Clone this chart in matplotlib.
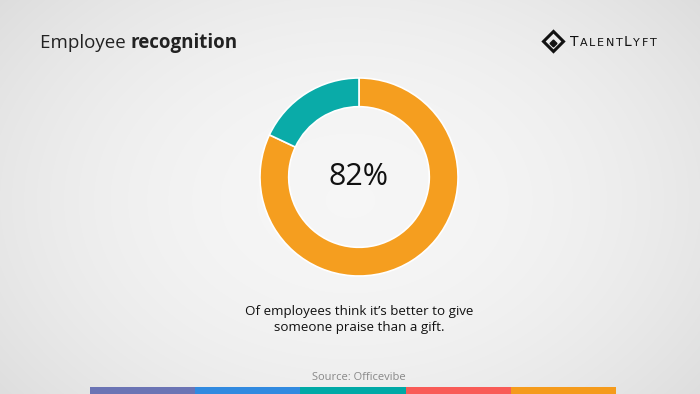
import numpy as np
import matplotlib
matplotlib.use("Agg")
import matplotlib.pyplot as plt

categories = ["Praise", "Gift"]
values = [82, 18]
colors = ["#F59E1F", "#0AABA8"]
center_label = "82%"
title_regular = "Employee "
title_bold = "recognition"
caption = "Of employees think it\u2019s better to give\nsomeone praise than a gift."
source = "Source: Officevibe"
stripe_colors = ["#6B74B4", "#318AE0", "#00A9A6", "#F95B57", "#F59B1C"]
logo_parts = [("T", 10), ("ALENT", 8), ("L", 10), ("YFT", 8)]

W, H = 700, 394
fig = plt.figure(figsize=(W / 100, H / 100), dpi=100)

# background radial gradient
bg = fig.add_axes([0, 0, 1, 1])
yy, xx = np.mgrid[0:H, 0:W]
r = np.sqrt(((xx - 350) / 420) ** 2 + ((yy - 200) / 300) ** 2)
g = 0.965 - 0.085 * np.clip(r, 0, 1.2) ** 2
img = np.dstack([g, g, g])
bg.imshow(img, extent=[0, W, H, 0], aspect="auto")
bg.set_xlim(0, W)
bg.set_ylim(H, 0)
bg.axis("off")

# stripes at bottom
sx0, sx1 = 90, 616
seg = (sx1 - sx0) / len(stripe_colors)
for i, c in enumerate(stripe_colors):
    bg.add_patch(plt.Rectangle((sx0 + i * seg, 387), seg, 8, color=c, lw=0))

# donut
cx, cy, R = 359, 177, 101
ax = fig.add_axes([(cx - R) / W, 1 - (cy + R) / H, 2 * R / W, 2 * R / H])
ax.pie(values, colors=colors, startangle=90, counterclock=False, radius=1,
       wedgeprops=dict(width=0.29, edgecolor="white", linewidth=1.2))
ax.set_xlim(-1.02, 1.02)
ax.set_ylim(-1.02, 1.02)
ax.set_aspect("equal")
ax.axis("off")
ax.text(0, 0, center_label, ha="center", va="center", fontsize=22,
        family="Open Sans", color="#111111")

# title
t = fig.text(40 / W, 1 - 43 / H, title_regular, fontsize=13.5, family="Open Sans",
             color="#222222", va="center", ha="left")
fig.canvas.draw()
bb = t.get_window_extent()
fig.text(bb.x1 / W, 1 - 43 / H, title_bold, fontsize=13.5, family="Open Sans",
         weight="bold", color="#222222", va="center", ha="left")

# caption
fig.text(359 / W, 1 - 319 / H, caption, fontsize=9.6, family="Open Sans",
         color="#111111", ha="center", va="center", linespacing=1.3)

# source
fig.text(359 / W, 1 - 377 / H, source, fontsize=8, family="Open Sans",
         color="#888888", ha="center", va="center")

# logo
bg.plot([553], [41], marker="D", markersize=10, markerfacecolor="none",
        markeredgecolor="#111111", markeredgewidth=2.2)
bg.plot([553], [43], marker="D", markersize=3.5, color="#111111")
x = 570
fig.canvas.draw()
for txt, fs in logo_parts:
    for ch in txt:
        tt = fig.text(x / W, 1 - 46 / H, ch, fontsize=fs, family="DejaVu Sans",
                      color="#111111", va="baseline", ha="left")
        fig.canvas.draw()
        x = tt.get_window_extent().x1 + 1.6

fig.savefig("out.png", dpi=100)
